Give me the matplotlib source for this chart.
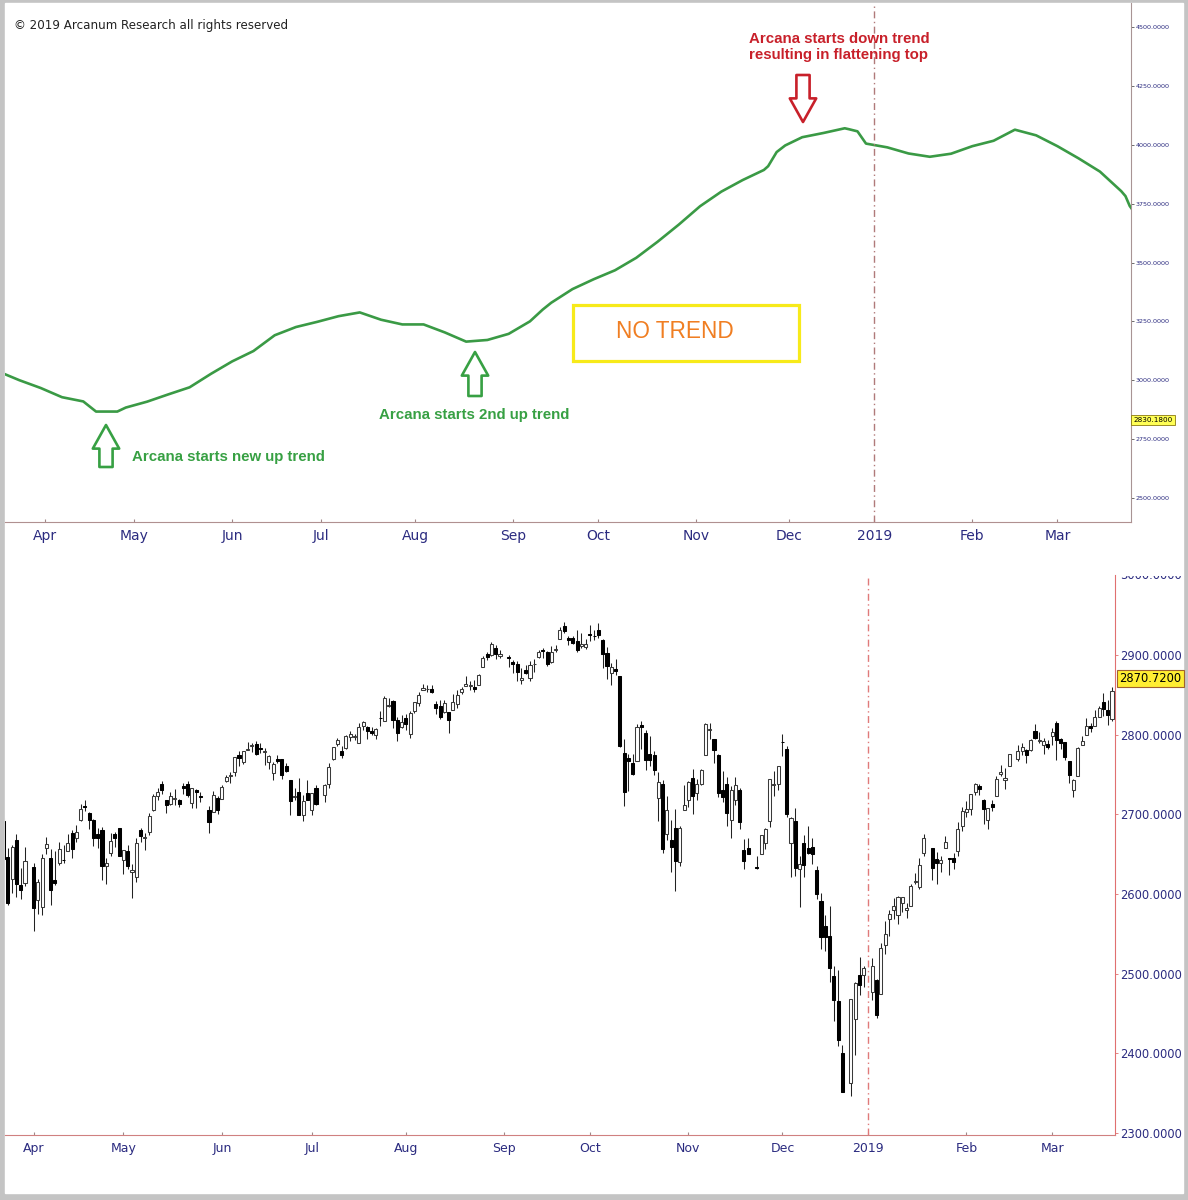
import numpy as np
import pandas as pd
import matplotlib
matplotlib.use('Agg')
import matplotlib.pyplot as plt
import matplotlib.transforms as mtransforms
from matplotlib.patches import Rectangle, FancyArrowPatch

# ---------------- data ----------------
# S&P 500 daily candles, 2018-03-22 .. 2019-03-21 (one value per trading day)
opens = [
    2691.4, 2646.7, 2619.4, 2667.6, 2611.3, 2614.4,
    # Apr
    2633.5, 2592.2, 2584.0, 2657.4, 2645.8, 2617.2, 2638.4, 2643.0, 2653.8, 2676.9, 2670.1,
    2692.7, 2710.1, 2701.2, 2692.6, 2675.4, 2680.8, 2634.9, 2651.7, 2675.5, 2682.5,
    # May
    2643.0, 2654.2, 2628.1, 2621.5, 2680.3, 2670.3, 2678.1, 2705.0, 2722.7, 2738.5, 2718.6,
    2712.6, 2719.7, 2717.4, 2735.4, 2738.3, 2714.0, 2730.9, 2723.6, 2705.1, 2702.4, 2721.0,
    # Jun
    2718.7, 2741.7, 2748.5, 2753.2, 2774.8, 2765.8, 2780.2, 2785.6, 2787.9, 2783.2, 2777.8,
    2765.8, 2752.0, 2769.7, 2769.3, 2760.8, 2742.9, 2722.1, 2728.5, 2698.7, 2727.1,
    # Jul
    2705.0, 2733.3, 2724.2, 2737.7, 2769.8, 2788.6, 2779.8, 2783.1, 2796.9, 2797.4, 2789.3,
    2811.4, 2809.4, 2804.6, 2799.2, 2820.7, 2817.7, 2835.5, 2842.4, 2819.0, 2809.7,
    # Aug
    2821.2, 2800.5, 2829.6, 2840.3, 2855.9, 2856.8, 2857.2, 2838.9, 2835.5, 2827.9, 2828.0,
    2831.4, 2838.3, 2853.9, 2861.5, 2861.0, 2860.3, 2862.4, 2884.7, 2901.5, 2900.6, 2908.9, 2898.4,
    # Sep
    2897.0, 2891.6, 2888.6, 2868.3, 2881.4, 2871.6, 2888.3, 2896.9, 2906.4, 2903.8, 2890.7,
    2906.6, 2919.7, 2936.8, 2921.8, 2921.8, 2917.0, 2911.7, 2910.0,
    # Oct
    2926.3, 2923.8, 2931.7, 2919.4, 2902.5, 2877.5, 2882.5, 2873.9, 2776.9, 2770.5, 2763.8,
    2767.1, 2811.7, 2802.0, 2775.7, 2773.9, 2721.0, 2737.9, 2674.9, 2667.9, 2682.6, 2640.7, 2705.6,
    # Nov
    2717.6, 2745.5, 2726.4, 2738.4, 2774.1, 2806.4, 2794.1, 2773.9, 2730.1, 2737.9, 2693.5,
    2718.5, 2730.7, 2654.6, 2657.7, 2633.4, 2650.0, 2663.8, 2691.5, 2737.0, 2737.8,
    # Dec
    2790.5, 2782.4, 2663.5, 2691.3, 2630.9, 2664.4, 2658.2, 2658.7, 2629.7, 2590.8, 2559.9,
    2547.1, 2496.8, 2465.4, 2400.6, 2363.1, 2442.5, 2498.8, 2498.9,
    # Jan 2019
    2477.0, 2491.9, 2474.3, 2535.6, 2568.1, 2580.0, 2573.5, 2588.1, 2580.3, 2585.1, 2614.8,
    2609.3, 2651.3, 2657.9, 2643.5, 2638.8, 2657.4, 2644.9, 2644.9, 2653.6, 2685.5,
    # Feb
    2702.3, 2706.5, 2728.3, 2735.1, 2717.5, 2692.4, 2712.4, 2722.6, 2750.3, 2743.5, 2760.2,
    2769.3, 2779.1, 2780.7, 2780.7, 2804.4, 2792.4, 2787.5, 2788.1,
    # Mar
    2798.2, 2814.4, 2794.4, 2790.3, 2766.5, 2730.8, 2747.6, 2787.3, 2799.8, 2810.4, 2810.8,
    2822.6, 2840.8, 2831.3, 2819.7,
]
highs = [
    2695.7, 2657.7, 2661.4, 2674.8, 2632.6, 2659.1,
    2638.3, 2619.1, 2649.9, 2672.1, 2656.9, 2653.6, 2665.5, 2661.4, 2674.7, 2680.3, 2686.5,
    2713.3, 2717.5, 2702.8, 2693.9, 2682.9, 2683.6, 2645.3, 2676.5, 2677.4, 2682.9,
    2655.3, 2660.9, 2637.1, 2670.9, 2683.4, 2676.3, 2701.3, 2726.1, 2732.9, 2742.1, 2718.6,
    2727.8, 2732.0, 2719.5, 2739.2, 2742.2, 2733.3, 2732.0, 2727.4, 2710.7, 2729.3, 2722.5,
    2736.9, 2749.2, 2752.6, 2772.4, 2779.9, 2779.4, 2790.2, 2789.8, 2791.5, 2789.1, 2782.8,
    2775.0, 2765.1, 2774.9, 2769.3, 2764.2, 2742.9, 2732.9, 2746.1, 2724.3, 2743.3,
    2727.3, 2736.6, 2737.8, 2764.4, 2784.6, 2795.6, 2785.9, 2799.2, 2804.5, 2801.2, 2814.2,
    2816.8, 2810.5, 2809.7, 2808.6, 2830.0, 2848.0, 2845.6, 2843.2, 2821.7, 2824.5,
    2825.8, 2829.9, 2840.4, 2853.3, 2863.4, 2862.4, 2862.5, 2842.2, 2843.4, 2843.1, 2828.0,
    2850.5, 2855.6, 2859.8, 2873.2, 2867.5, 2868.8, 2876.2, 2898.3, 2903.8, 2916.5, 2912.5, 2906.3,
    2900.2, 2894.2, 2892.1, 2883.8, 2886.9, 2892.5, 2894.7, 2906.8, 2908.3, 2904.7, 2911.2,
    2912.4, 2934.8, 2940.9, 2923.8, 2924.0, 2931.2, 2927.2, 2920.5,
    2937.1, 2931.4, 2939.9, 2919.8, 2909.6, 2889.5, 2894.8, 2874.0, 2795.1, 2775.8, 2776.0,
    2813.5, 2816.9, 2806.0, 2797.8, 2778.9, 2753.6, 2742.6, 2722.7, 2692.4, 2706.9, 2685.4, 2736.7,
    2741.7, 2756.6, 2744.3, 2756.8, 2815.2, 2814.8, 2794.1, 2776.0, 2754.6, 2746.8, 2735.4,
    2746.8, 2733.2, 2669.4, 2670.7, 2647.6, 2674.4, 2682.5, 2744.0, 2753.8, 2760.9,
    2800.2, 2785.9, 2696.2, 2708.5, 2647.5, 2674.4, 2685.4, 2670.2, 2635.1, 2601.1, 2574.0,
    2585.3, 2509.6, 2504.4, 2410.3, 2467.8, 2489.1, 2520.3, 2509.2,
    2519.5, 2493.1, 2538.1, 2566.2, 2579.8, 2595.3, 2597.8, 2596.3, 2589.3, 2613.1, 2625.8,
    2645.1, 2675.5, 2657.9, 2653.2, 2647.2, 2672.4, 2644.9, 2650.9, 2690.4, 2709.0,
    2716.7, 2725.0, 2739.0, 2738.1, 2719.3, 2708.1, 2718.1, 2748.2, 2761.9, 2757.9, 2775.7,
    2787.3, 2789.9, 2781.5, 2794.2, 2813.5, 2803.1, 2795.8, 2793.7,
    2808.0, 2816.9, 2796.4, 2790.3, 2767.3, 2744.1, 2784.0, 2798.3, 2821.2, 2815.0, 2830.7,
    2835.4, 2852.4, 2843.5, 2860.3,
]
lows = [
    2641.6, 2585.9, 2601.8, 2596.1, 2593.1, 2609.7,
    2553.8, 2575.5, 2573.6, 2649.6, 2586.3, 2610.8, 2635.8, 2639.3, 2653.8, 2645.1, 2665.2,
    2692.1, 2703.6, 2681.9, 2660.6, 2658.0, 2617.3, 2612.7, 2647.2, 2659.0, 2648.0,
    2625.4, 2631.7, 2594.6, 2615.3, 2664.7, 2655.2, 2674.1, 2704.5, 2717.5, 2725.5, 2701.9,
    2712.2, 2711.4, 2709.2, 2725.7, 2721.9, 2707.4, 2707.4, 2715.0, 2676.8, 2702.4, 2700.7,
    2718.7, 2740.5, 2739.5, 2748.5, 2760.2, 2763.6, 2780.2, 2778.8, 2774.7, 2776.5, 2761.7,
    2757.1, 2743.2, 2763.9, 2744.4, 2752.7, 2698.7, 2717.5, 2699.4, 2692.0, 2718.0,
    2699.0, 2711.2, 2716.0, 2733.5, 2768.5, 2786.2, 2770.8, 2781.5, 2791.7, 2793.4, 2789.2,
    2805.9, 2795.1, 2800.0, 2795.1, 2811.1, 2817.1, 2835.3, 2808.3, 2791.5, 2808.1,
    2805.9, 2796.3, 2827.4, 2836.0, 2855.9, 2853.1, 2852.7, 2825.8, 2819.9, 2826.6, 2802.5,
    2831.4, 2833.7, 2850.6, 2861.3, 2856.1, 2854.0, 2862.4, 2884.7, 2893.5, 2898.4, 2895.2, 2895.8,
    2885.1, 2876.9, 2867.3, 2864.1, 2875.9, 2866.8, 2879.2, 2896.4, 2895.8, 2886.2, 2890.4,
    2903.8, 2919.7, 2927.1, 2912.6, 2913.7, 2903.3, 2909.3, 2907.5,
    2917.9, 2919.4, 2921.4, 2883.9, 2869.3, 2862.1, 2874.3, 2784.9, 2710.5, 2729.4, 2749.0,
    2766.9, 2781.8, 2755.2, 2760.3, 2749.2, 2691.4, 2651.9, 2667.8, 2628.2, 2603.5, 2635.3, 2705.6,
    2708.9, 2700.4, 2717.9, 2737.1, 2774.1, 2795.0, 2764.2, 2722.0, 2715.0, 2685.8, 2670.8,
    2712.2, 2681.1, 2631.5, 2649.8, 2631.1, 2650.0, 2655.9, 2684.4, 2722.9, 2730.1,
    2773.4, 2697.2, 2621.5, 2623.1, 2583.2, 2621.3, 2650.3, 2637.3, 2593.8, 2530.5, 2528.7,
    2489.0, 2441.2, 2408.6, 2351.1, 2346.6, 2397.9, 2472.9, 2482.8,
    2467.5, 2444.0, 2474.3, 2524.6, 2547.6, 2568.9, 2562.0, 2577.4, 2570.4, 2585.1, 2612.7,
    2606.4, 2647.6, 2617.3, 2612.9, 2627.0, 2657.3, 2624.1, 2631.1, 2648.3, 2678.7,
    2696.9, 2698.8, 2724.0, 2724.2, 2687.3, 2681.8, 2703.8, 2722.6, 2748.6, 2731.2, 2760.2,
    2767.3, 2774.1, 2764.6, 2779.1, 2795.0, 2789.5, 2775.1, 2782.5,
    2787.4, 2767.7, 2782.0, 2768.7, 2739.1, 2722.3, 2747.6, 2786.7, 2799.8, 2803.5, 2810.8,
    2822.0, 2823.3, 2812.4, 2817.4,
]
closes = [
    2643.7, 2588.3, 2658.6, 2612.6, 2605.0, 2640.9,
    2581.9, 2614.5, 2644.7, 2662.8, 2604.5, 2613.2, 2656.9, 2642.2, 2664.0, 2656.3, 2677.8,
    2706.4, 2708.6, 2693.1, 2670.1, 2670.3, 2634.6, 2639.4, 2666.9, 2669.9, 2648.1,
    2654.8, 2635.7, 2629.7, 2663.4, 2672.6, 2671.9, 2697.8, 2723.1, 2727.7, 2730.1, 2711.5,
    2722.5, 2720.1, 2713.0, 2733.0, 2724.4, 2733.3, 2727.8, 2721.3, 2689.9, 2724.0, 2705.3,
    2734.6, 2746.9, 2748.8, 2772.4, 2770.4, 2779.0, 2782.0, 2786.9, 2775.6, 2782.5, 2779.7,
    2773.8, 2762.6, 2767.3, 2749.8, 2754.9, 2717.1, 2723.1, 2699.6, 2716.3, 2718.4,
    2726.7, 2713.2, 2736.6, 2759.8, 2784.2, 2793.8, 2774.0, 2798.3, 2801.3, 2798.4, 2809.6,
    2815.6, 2804.5, 2801.8, 2807.0, 2820.4, 2846.1, 2837.4, 2818.8, 2802.6, 2816.3,
    2813.4, 2827.2, 2840.4, 2850.4, 2858.5, 2857.7, 2853.6, 2833.3, 2821.9, 2840.0, 2818.4,
    2840.7, 2850.1, 2857.1, 2863.0, 2861.8, 2857.0, 2874.7, 2896.7, 2897.5, 2914.0, 2901.1, 2901.5,
    2896.7, 2888.6, 2878.1, 2871.7, 2877.1, 2887.9, 2888.9, 2904.2, 2905.0, 2888.8, 2904.3,
    2908.0, 2930.8, 2929.7, 2919.4, 2915.6, 2906.0, 2914.0, 2914.0,
    2924.6, 2923.4, 2925.5, 2901.6, 2885.6, 2884.4, 2880.3, 2785.7, 2728.4, 2767.1, 2750.8,
    2809.9, 2809.2, 2768.8, 2767.8, 2755.9, 2740.7, 2656.1, 2705.6, 2658.7, 2641.3, 2682.6, 2711.7,
    2740.4, 2723.1, 2738.3, 2755.5, 2813.9, 2806.8, 2781.0, 2726.2, 2722.2, 2701.6, 2730.2,
    2736.3, 2690.7, 2641.9, 2649.9, 2632.6, 2673.5, 2682.2, 2743.8, 2737.8, 2760.2,
    2790.4, 2700.1, 2696.0, 2633.1, 2637.7, 2636.8, 2651.1, 2650.5, 2600.0, 2545.9, 2546.2,
    2507.0, 2467.4, 2416.6, 2351.1, 2467.7, 2488.8, 2485.7, 2506.9,
    2510.0, 2447.9, 2531.9, 2549.7, 2574.4, 2585.0, 2596.6, 2596.3, 2582.6, 2610.3, 2616.1,
    2636.0, 2670.7, 2632.9, 2638.7, 2642.3, 2664.8, 2643.9, 2640.0, 2681.1, 2704.1,
    2706.5, 2724.9, 2737.7, 2731.6, 2706.1, 2707.9, 2709.8, 2744.7, 2753.0, 2745.7, 2775.6,
    2779.8, 2784.7, 2774.9, 2792.7, 2796.1, 2793.9, 2792.4, 2784.5,
    2803.7, 2792.8, 2789.7, 2771.5, 2748.9, 2743.1, 2783.3, 2791.5, 2810.9, 2808.5, 2822.5,
    2832.9, 2832.6, 2824.2, 2854.9,
]
market_holidays = ['2018-03-30', '2018-05-28', '2018-07-04', '2018-09-03', '2018-11-22',
                   '2018-12-05', '2018-12-25', '2019-01-01', '2019-01-21', '2019-02-18']

# Arcana indicator
arcana_dates = [
    '2018-03-19', '2018-03-23', '2018-03-30', '2018-04-06', '2018-04-13', '2018-04-18',
    '2018-04-25', '2018-04-27', '2018-05-04', '2018-05-11', '2018-05-18', '2018-05-25',
    '2018-06-01', '2018-06-08', '2018-06-15', '2018-06-22', '2018-06-29', '2018-07-06',
    '2018-07-13', '2018-07-20', '2018-07-27', '2018-08-03', '2018-08-10', '2018-08-17',
    '2018-08-24', '2018-08-31', '2018-09-07', '2018-09-12', '2018-09-14', '2018-09-21',
    '2018-09-28', '2018-10-05', '2018-10-12', '2018-10-19', '2018-10-26', '2018-11-02',
    '2018-11-09', '2018-11-16', '2018-11-23', '2018-11-26', '2018-11-28', '2018-11-30',
    '2018-12-07', '2018-12-14', '2018-12-21', '2018-12-24', '2018-12-26', '2018-12-28',
    '2019-01-04', '2019-01-11', '2019-01-18', '2019-01-25', '2019-02-01', '2019-02-08',
    '2019-02-15', '2019-02-22', '2019-03-01', '2019-03-08', '2019-03-15', '2019-03-22',
    '2019-03-25', '2019-03-26', '2019-03-27',
]
arcana_values = [
    3030, 3000, 2967, 2928, 2910, 2867,
    2867, 2884, 2909, 2940, 2970, 3027,
    3080, 3124, 3191, 3226, 3248, 3272,
    3288, 3257, 3237, 3237, 3203, 3164,
    3171, 3197, 3250, 3300, 3329, 3387,
    3429, 3467, 3520, 3588, 3661, 3739,
    3801, 3850, 3893, 3909, 3969, 3997,
    4032, 4050, 4070, 4066, 4057, 4005,
    3989, 3963, 3949, 3962, 3994, 4017,
    4064, 4040, 3994, 3942, 3886, 3803,
    3782, 3740, 3715,
]

top_ticks = [2500, 2750, 3000, 3250, 3500, 3750, 4000, 4250, 4500]
bottom_ticks = [2300, 2400, 2500, 2600, 2700, 2800, 2900]
arcana_last = 2830.18
price_last = 2870.72

# ---------------- x positions (one slot per weekday) ----------------
slots = pd.bdate_range('2018-03-15', '2019-04-05').drop(pd.Timestamp('2018-12-05'))
slot_of = {d: i for i, d in enumerate(slots)}
trade_days = pd.bdate_range('2018-03-22', '2019-03-21').drop(pd.to_datetime(market_holidays))
xc = np.array([slot_of[d] for d in trade_days])
xa = np.array([slot_of[pd.Timestamp(d)] for d in arcana_dates])

firsts = pd.Series(slots, index=slots).groupby(slots.to_period('M')).first()
firsts = firsts[(firsts >= '2018-04-01') & (firsts < '2019-04-01')]
month_x = [slot_of[d] for d in firsts]
month_lab = ['2019' if d.month == 1 else d.strftime('%b') for d in firsts]
new_year = slot_of[pd.Timestamp('2019-01-01')]

o = np.array(opens); h = np.array(highs); l = np.array(lows); c = np.array(closes)

# ---------------- figure ----------------
W, H = 1188, 1200
fig = plt.figure(figsize=(W / 100, H / 100), dpi=100, facecolor='#c4c4c4')
fig.patches.append(Rectangle((5 / W, 1 - 1193 / H), 1178 / W, 1190 / H,
                             transform=fig.transFigure, color='white', zorder=-5))


def fx(px):
    return px / W


def fy(py):
    return 1 - py / H


lab_blue = '#2b2b80'
ax1 = fig.add_axes([5 / W, 1 - 522 / H, 1126 / W, 519 / H])
ax2 = fig.add_axes([5 / W, 1 - 1135 / H, 1110 / W, 560 / H])
for ax in (ax1, ax2):
    ax.set_facecolor('none')

# ---- top panel: Arcana line
ax1.plot(xa, arcana_values, color='#3a9a45', lw=1.9, solid_joinstyle='round')
ax1.set_xlim(2.6, 267.3)
ax1.set_ylim(2398, 4602)
ax1.axvline(new_year, color='#b07a7a', lw=1, dashes=(5, 2.5, 1, 2.5))
ax1.yaxis.tick_right()
ax1.set_yticks(top_ticks)
ax1.set_yticklabels([f'{v:.4f}' for v in top_ticks])
ax1.tick_params(axis='y', labelsize=4.6, colors='#555555', labelcolor=lab_blue,
                length=2.5, width=0.6, pad=1)
ax1.set_xticks(month_x)
ax1.set_xticklabels(month_lab)
ax1.tick_params(axis='x', labelsize=10, labelcolor=lab_blue, colors='#a08888',
                length=2, width=0.8, direction='in', pad=5)
for s in ('top', 'left'):
    ax1.spines[s].set_visible(False)
ax1.spines['right'].set_color('#a89494')
ax1.spines['bottom'].set_color('#b09090')
ax1.text(1.002, arcana_last, f'{arcana_last:.4f}',
         transform=mtransforms.blended_transform_factory(ax1.transAxes, ax1.transData),
         fontsize=5.2, va='center', ha='left', color='black',
         bbox=dict(boxstyle='square,pad=0.3', fc='#ffff55', ec='#8a7a10', lw=0.6))

# ---- bottom panel: candles
up = c >= o
body_lo = np.minimum(o, c)
body_h = np.maximum(np.abs(c - o), 0.9)
ax2.vlines(xc, l, h, color='#222222', lw=0.75, zorder=1)
ax2.bar(xc[up], body_h[up], bottom=body_lo[up], width=0.72, color='white',
        edgecolor='#3a3a3a', linewidth=0.75, zorder=2)
ax2.bar(xc[~up], body_h[~up], bottom=body_lo[~up], width=0.72, color='black',
        edgecolor='black', linewidth=0.75, zorder=2)
ax2.set_xlim(5.33, 264.7)
ax2.set_ylim(2297.5, 3000.4)
ax2.axvline(new_year, color='#e07a7a', lw=1, dashes=(5, 2.5, 1, 2.5))
ax2.yaxis.tick_right()
ax2.set_yticks(bottom_ticks)
ax2.set_yticklabels([f'{v:.4f}' for v in bottom_ticks])
ax2.tick_params(axis='y', labelsize=8.3, labelcolor=lab_blue, colors='#e07070',
                length=2, width=0.6, pad=1.5)
ax2.set_xticks(month_x)
ax2.set_xticklabels(month_lab)
ax2.tick_params(axis='x', labelsize=9, labelcolor=lab_blue, colors='#a08888',
                length=2, width=0.8, direction='in', pad=5)
for s in ('top', 'left'):
    ax2.spines[s].set_visible(False)
ax2.spines['right'].set_color('#e07070')
ax2.spines['bottom'].set_color('#d08080')

rt2 = mtransforms.blended_transform_factory(ax2.transAxes, ax2.transData)
off = mtransforms.ScaledTranslation(3.3 / 72, 0, fig.dpi_scale_trans)
t3000 = ax2.text(1.0, 3000, '3000.0000', transform=rt2 + off, fontsize=8.3,
                 va='center', ha='left', color=lab_blue, clip_on=True)
t3000.set_clip_path(Rectangle((0, 0), 1, 1 - 576 / H, transform=fig.transFigure))
ax2.text(1.0, price_last, f'{price_last:.4f}', transform=rt2 + off, fontsize=8.3,
         va='center', ha='left', color='black',
         bbox=dict(boxstyle='square,pad=0.2', fc='#ffee33', ec='#a0622d', lw=0.8))

# ---- annotations
fig.text(fx(14), fy(25), '\u00a9 2019 Arcanum Research all rights reserved',
         fontsize=8.55, color='#222222', va='center', ha='left')

red = '#c8202a'
green = '#37a043'
fig.text(fx(749), fy(47), 'Arcana starts down trend\nresulting in flattening top',
         fontsize=10.8, fontweight='bold', family='Liberation Sans', color=red,
         va='center', ha='left', linespacing=1.2)
fig.text(fx(379), fy(415), 'Arcana starts 2nd up trend', fontsize=10.8,
         fontweight='bold', family='Liberation Sans', color=green, va='center', ha='left')
fig.text(fx(132), fy(457), 'Arcana starts new up trend', fontsize=10.8,
         fontweight='bold', family='Liberation Sans', color=green, va='center', ha='left')

fig.patches.append(Rectangle((fx(573), fy(361)), (799 - 573) / W, (361 - 305) / H,
                             transform=fig.transFigure, fill=False,
                             ec='#f7ea1a', lw=2.3, zorder=3))
fig.text(fx(675), fy(332), 'NO TREND', fontsize=16.3, family='Liberation Sans',
         color='#f07e22', va='center', ha='center')


def block_arrow(x, y_tail, y_tip, color):
    arr = FancyArrowPatch((fx(x), fy(y_tail)), (fx(x), fy(y_tip)),
                          transform=fig.transFigure,
                          arrowstyle='simple,head_length=17,head_width=19,tail_width=9.5',
                          mutation_scale=1, shrinkA=0, shrinkB=0,
                          fc='white', ec=color, lw=1.9, zorder=4)
    fig.add_artist(arr)


block_arrow(803, 75, 122, red)
block_arrow(475, 396, 352, green)
block_arrow(106, 467, 425, green)

fig.savefig('out.png', dpi=100, facecolor=fig.get_facecolor())
